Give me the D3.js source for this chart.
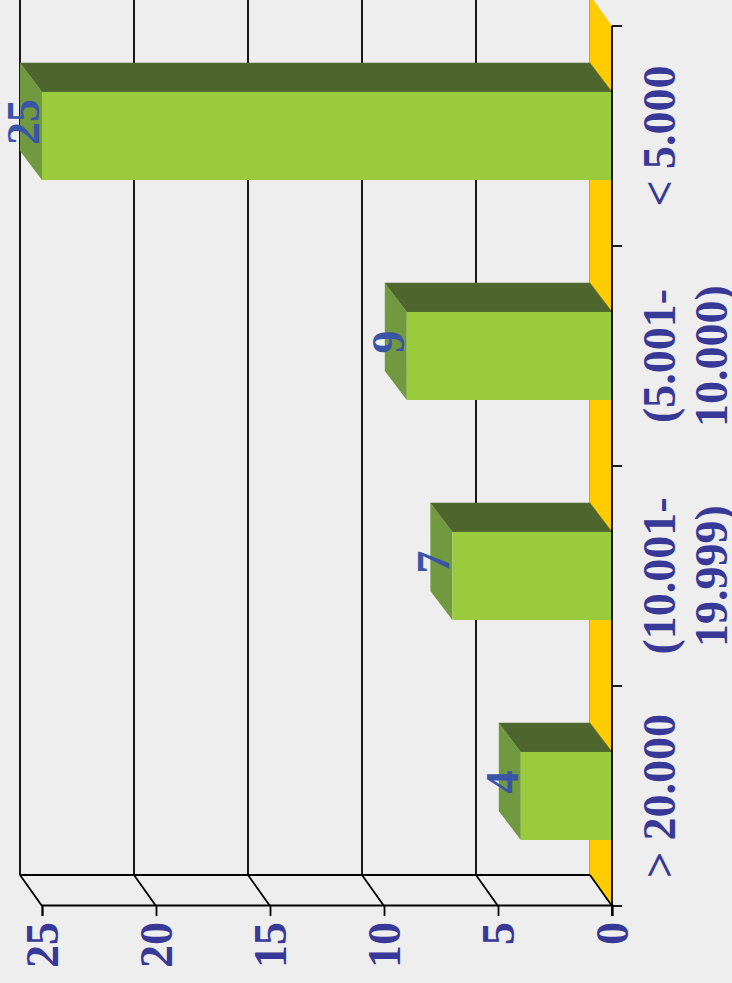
<!DOCTYPE html>
<html>
<head>
<meta charset="utf-8">
<script src="https://cdn.jsdelivr.net/npm/d3@7"></script>
<style>
  html, body { margin: 0; padding: 0; background: #eeeeee; }
  svg { display: block; }
  .lbl { font-family: "Liberation Serif", "Times New Roman", serif; font-weight: bold; }
</style>
</head>
<body>
<svg width="732" height="983"></svg>
<script>
// chart data
var categories = [["> 20.000"], ["(10.001-", "19.999)"], ["(5.001-", "10.000)"], ["< 5.000"]];
var values = [4, 7, 9, 25];
var valueTicks = [0, 5, 10, 15, 20, 25];

var svg = d3.select("svg");
var W = +svg.attr("height"); // chart is drawn sideways, so its width is the page height
// whole chart drawn upright, then turned a quarter left
var g = svg.append("g").attr("transform", "translate(0," + W + ") rotate(-90)");

var depth = {u: 31, v: -22};   // back wall offset
var barDepth = {u: 29, v: -22};

var x = d3.scaleBand()
  .domain(d3.range(categories.length))
  .range([77, 957])
  .paddingInner(0.6)
  .paddingOuter(0.3);
var y = d3.scaleLinear().domain([0, 25]).range([612, 42]);

var x0 = x.range()[0], x1 = x.range()[1];
var lineColor = "#000";

// back wall gridlines
g.selectAll(".grid")
  .data(valueTicks)
  .enter().append("line")
    .attr("x1", x0 + depth.u).attr("x2", x1 + depth.u + 40)
    .attr("y1", function(d) { return y(d) + depth.v; })
    .attr("y2", function(d) { return y(d) + depth.v; })
    .attr("stroke", function(d) { return d === 0 ? "#555" : lineColor; })
    .attr("stroke-width", function(d) { return d === 0 ? 1 : 1.8; });

// side wall
g.append("line")
  .attr("x1", x0 + depth.u).attr("x2", x0 + depth.u)
  .attr("y1", y(25) + depth.v).attr("y2", y(0) + depth.v)
  .attr("stroke", lineColor).attr("stroke-width", 1.8);

// floor
g.append("path")
  .attr("d", d3.line()([
    [x0, y(0)], [x1, y(0)], [x1 + depth.u, y(0) + depth.v], [x0 + depth.u, y(0) + depth.v]
  ]) + "Z")
  .attr("fill", "#ffcc00");

g.selectAll(".side")
  .data(valueTicks)
  .enter().append("line")
    .attr("x1", x0).attr("x2", x0 + depth.u)
    .attr("y1", function(d) { return y(d); })
    .attr("y2", function(d) { return y(d) + depth.v; })
    .attr("stroke", lineColor).attr("stroke-width", 1.8);

// bars as boxes
var bars = g.selectAll(".bar")
  .data(values)
  .enter().append("g")
    .attr("class", "bar");

bars.append("path")
  .attr("d", function(d, i) {
    var a = x(i), b = a + x.bandwidth(), t = y(d);
    return d3.line()([[b, t], [b, y(0)], [b + barDepth.u, y(0) + barDepth.v], [b + barDepth.u, t + barDepth.v]]) + "Z";
  })
  .attr("fill", "#4f652e")
  .attr("stroke", "#5d7340").attr("stroke-width", 0.6);

bars.append("path")
  .attr("d", function(d, i) {
    var a = x(i), b = a + x.bandwidth(), t = y(d);
    return d3.line()([[a, t], [b, t], [b + barDepth.u, t + barDepth.v], [a + barDepth.u, t + barDepth.v]]) + "Z";
  })
  .attr("fill", "#71993f");

bars.append("rect")
  .attr("x", function(d, i) { return x(i); })
  .attr("y", function(d) { return y(d); })
  .attr("width", x.bandwidth())
  .attr("height", function(d) { return y(0) - y(d); })
  .attr("fill", "#9acb3c");

// axes
var yAxis = g.append("g")
  .attr("transform", "translate(" + x0 + ",0)")
  .call(d3.axisLeft(y).tickValues(valueTicks).tickSize(10).tickFormat(d3.format("d")));
yAxis.select(".domain").attr("stroke", lineColor).attr("stroke-width", 1.8);
yAxis.selectAll(".tick line").attr("stroke", lineColor).attr("stroke-width", 1.8);
yAxis.selectAll(".tick text")
  .attr("class", "lbl")
  .attr("x", -16)
  .attr("dy", "0.34em")
  .style("font-size", "46px")
  .attr("fill", "#383896");

var xAxis = g.append("g")
  .attr("transform", "translate(0," + y(0) + ")");
xAxis.append("line")
  .attr("x1", x0 - 10).attr("x2", x1)
  .attr("stroke", lineColor).attr("stroke-width", 1.8);
xAxis.selectAll(".xtick")
  .data(d3.range(categories.length + 1))
  .enter().append("line")
    .attr("x1", function(i) { return x0 + i * x.step(); })
    .attr("x2", function(i) { return x0 + i * x.step(); })
    .attr("y1", 0).attr("y2", 10)
    .attr("stroke", lineColor).attr("stroke-width", 1.8);

var catText = xAxis.selectAll(".cat")
  .data(categories)
  .enter().append("text")
    .attr("class", "lbl")
    .attr("text-anchor", "middle")
    .style("font-size", "46px")
    .attr("fill", "#383896");
catText.selectAll("tspan")
  .data(function(d, i) { return d.map(function(s) { return {s: s, i: i}; }); })
  .enter().append("tspan")
    .attr("x", function(d) { return x(d.i) + x.bandwidth() / 2; })
    .attr("y", function(d, j) { return 63 + j * 52; })
    .text(function(d) { return d.s; });

// value labels
bars.append("text")
  .attr("class", "lbl")
  .attr("text-anchor", "middle")
  .attr("x", function(d, i) { return x(i) + x.bandwidth() / 2 + 14; })
  .attr("y", function(d) { return y(d) - 3; })
  .style("font-size", "46px")
  .attr("fill", "#3a55a8")
  .text(function(d) { return d; });
</script>
</body>
</html>
